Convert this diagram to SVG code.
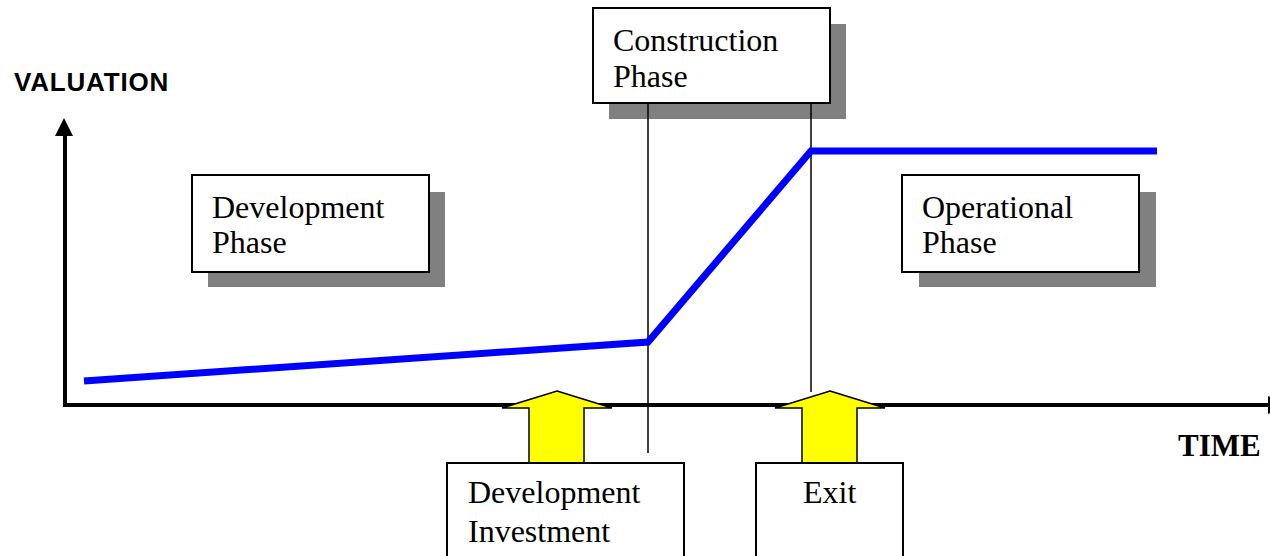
<svg xmlns="http://www.w3.org/2000/svg" width="1270" height="556" viewBox="0 0 1270 556">
  <style>
    .box { fill: #ffffff; stroke: #000000; stroke-width: 2; }
    .shadow { fill: #808080; }
    .label { font-family: "Liberation Serif", "Times New Roman", serif; font-size: 32px; fill: #000000; }
    .axis { stroke: #000000; stroke-width: 4; fill: none; }
    .guide { stroke: #000000; stroke-width: 1.5; fill: none; }
    .value { stroke: #0000ff; stroke-width: 7; fill: none; stroke-linejoin: miter; }
    .push { fill: #ffff00; stroke: #000000; stroke-width: 1.5; }
  </style>

  <rect width="1270" height="556" fill="#ffffff"/>

  <!-- axis titles -->
  <text x="14" y="91" font-family="Liberation Sans, Arial, sans-serif" font-weight="bold" font-size="26" letter-spacing="0.8">VALUATION</text>
  <text x="1178" y="456" font-family="Liberation Serif, Times New Roman, serif" font-weight="bold" font-size="31">TIME</text>

  <!-- phase nodes -->
  <g id="construction-phase">
    <rect class="shadow" x="609" y="24" width="237" height="95"/>
    <rect class="box" x="593" y="8" width="237" height="95"/>
    <text class="label" x="613" y="51">Construction</text>
    <text class="label" x="613" y="87">Phase</text>
  </g>

  <g id="development-phase">
    <rect class="shadow" x="208" y="192" width="237" height="95"/>
    <rect class="box" x="192" y="175" width="237" height="97"/>
    <text class="label" x="212" y="218">Development</text>
    <text class="label" x="212" y="253">Phase</text>
  </g>

  <g id="operational-phase">
    <rect class="shadow" x="919" y="192" width="237" height="95"/>
    <rect class="box" x="902" y="175" width="237" height="97"/>
    <text class="label" x="922" y="218">Operational</text>
    <text class="label" x="922" y="253">Phase</text>
  </g>

  <g id="connectors">
    <!-- phase boundaries -->
    <line class="guide" x1="648" y1="103" x2="648" y2="453"/>
    <line class="guide" x1="811" y1="103" x2="811" y2="392"/>

    <!-- axes -->
    <line class="axis" x1="65" y1="134" x2="65" y2="407"/>
    <polygon points="64,118 55,136 73,136" fill="#000000"/>
    <line class="axis" x1="63" y1="405" x2="1270" y2="405"/>
    <polygon points="1268,396 1288,405 1268,414" fill="#000000"/>

    <!-- valuation curve -->
    <polyline class="value" points="84,381 648,342 811,151 1157,151"/>

    <!-- event arrows -->
    <polygon class="push" points="557,391 612,408 584,408 584,463 529,463 529,408 502,408"/>
    <polygon class="push" points="830,391 885,408 857,408 857,463 802,463 802,408 775,408"/>
  </g>

  <!-- event nodes -->
  <g id="development-investment">
    <rect class="box" x="447" y="463" width="237" height="100"/>
    <text class="label" x="468" y="503">Development</text>
    <text class="label" x="468" y="542">Investment</text>
  </g>

  <g id="exit">
    <rect class="box" x="756" y="463" width="147" height="100"/>
    <text class="label" x="803" y="503">Exit</text>
  </g>
</svg>
